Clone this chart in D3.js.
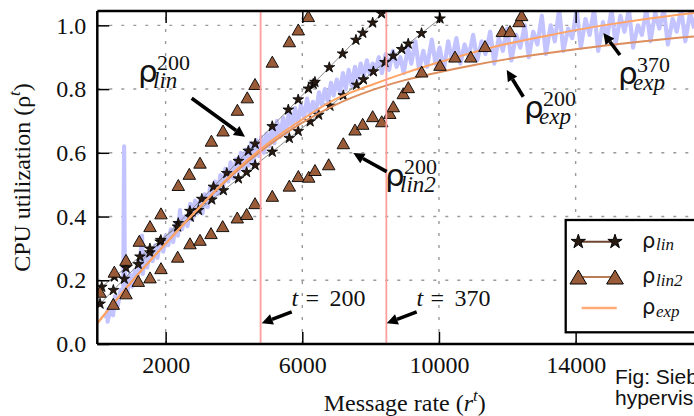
<!DOCTYPE html>
<html>
<head>
<meta charset="utf-8">
<script src="https://cdn.jsdelivr.net/npm/d3@7"></script>
<style>
  body { margin: 0; background: #fff; }
  svg { display: block; }
  .serif { font-family: "Liberation Serif", "Times New Roman", serif; }
  .rho { font-family: "DejaVu Sans", sans-serif; }
</style>
</head>
<body>
<svg id="chart" width="694" height="416"></svg>
<script>
// ---- data ----
const xTicks = [2000, 6000, 10000, 14000]
const yTicks = [0, 0.2, 0.4, 0.6, 0.8, 1.0]
const changePoints = [4780, 8460]   // t = 200, t = 370

// measured CPU utilization vs message rate
const measured = [
  [250,0.08],[320,0.11],[300,0.07],[400,0.12],[460,0.09],[520,0.15],[600,0.12],[680,0.17],[760,0.15],[785,0.62],
  [805,0.19],[880,0.16],[950,0.22],[1020,0.18],[1100,0.23],[1180,0.21],[1250,0.26],[1310,0.34],[1330,0.22],[1400,0.28],
  [1460,0.24],[1540,0.29],[1620,0.26],[1700,0.31],[1760,0.27],[1850,0.33],[1930,0.29],[2000,0.34],[2080,0.31],[2150,0.36],
  [2220,0.32],[2300,0.38],[2360,0.34],[2420,0.42],[2480,0.36],[2560,0.40],[2640,0.37],[2720,0.44],[2780,0.39],[2860,0.45],
  [2930,0.41],[3000,0.45],[3080,0.41],[3150,0.47],[3230,0.43],[3300,0.49],[3380,0.45],[3450,0.51],[3530,0.47],[3600,0.53],
  [3680,0.49],[3750,0.55],[3830,0.51],[3900,0.57],[3980,0.52],[4060,0.58],[4130,0.54],[4200,0.60],[4280,0.55],[4350,0.61],
  [4430,0.56],[4500,0.63],[4580,0.57],[4650,0.64],[4720,0.59],[4800,0.65],[4880,0.60],[4950,0.66],[5030,0.62],[5100,0.68],
  [5180,0.63],[5260,0.70],[5350,0.65],[5440,0.71],[5520,0.66],[5610,0.73],[5700,0.68],[5790,0.74],[5870,0.69],[5960,0.75],
  [6050,0.71],[6140,0.77],[6220,0.72],[6310,0.76],[6400,0.73],[6490,0.79],[6570,0.75],[6660,0.80],[6750,0.76],[6840,0.82],
  [6920,0.78],[7010,0.83],[7100,0.79],[7190,0.85],[7270,0.80],[7360,0.86],[7450,0.81],[7540,0.87],[7620,0.83],[7710,0.88],
  [7800,0.84],[7890,0.89],[7970,0.85],[8060,0.88],[8140,0.86],[8240,0.90],[8330,0.85],[8440,0.91],[8540,0.86],[8650,0.92],
  [8760,0.87],[8870,0.90],[8970,0.85],[9090,0.93],[9190,0.88],[9310,0.95],[9420,0.86],[9540,0.92],[9650,0.87],[9790,0.955],
  [9900,0.88],[10020,0.93],[10140,0.86],[10270,0.95],[10380,0.89],[10510,0.96],[10630,0.88],[10750,0.94],[10870,0.90],[11000,0.97],
  [11120,0.89],[11250,0.95],[11360,0.91],[11500,0.98],[11620,0.88],[11750,0.96],[11870,0.92],[12000,0.99],[12120,0.89],[12260,0.97],
  [12380,0.93],[12510,1.00],[12630,0.90],[12760,0.98],[12880,0.94],[13010,1.03],[13130,0.91],[13270,1.00],[13390,0.95],[13520,1.05],
  [13640,0.92],[13780,0.99],[13900,0.96],[14030,1.05],[14150,0.93],[14290,1.02],[14410,0.97],[14540,1.05],[14660,0.92],[14800,1.01],
  [14920,0.96],[15050,1.05],[15170,0.94],[15310,1.03],[15430,0.98],[15560,1.05],[15680,0.93],[15820,1.00],[15940,0.97],[16070,1.05],
  [16190,0.95],[16330,1.04],[16450,0.99],[16580,1.05],[16700,0.94],[16840,1.02],[16960,0.98],[17090,1.05],[17210,0.95],[17350,1.04],
  [17470,0.99]
]

// linear model fitted at t = 200 (steep) and at t = 370
const lin200 = [
  [80,0.126],[470,0.169],[790,0.204],[1200,0.250],[1540,0.287],[1840,0.321],[2370,0.379],[2710,0.417],[3060,0.455],[3400,0.493],
  [3790,0.536],[4130,0.574],[4420,0.606],[4620,0.628],[5120,0.683],[5590,0.735],[5880,0.767],[6180,0.801],[6320,0.816],[6370,0.822],
  [6790,0.868],[7180,0.911],[7570,0.954],[7770,0.976],[8060,1.008],[8320,1.037]
]
const lin370 = [
  [130,0.179],[500,0.211],[840,0.239],[1250,0.274],[1540,0.299],[1860,0.326],[2350,0.368],[2720,0.399],[2960,0.420],[3350,0.453],
  [3690,0.482],[4130,0.519],[4370,0.539],[4620,0.561],[5120,0.603],[5620,0.646],[5880,0.668],[6230,0.698],[6480,0.719],[6810,0.747],
  [7200,0.780],[7590,0.813],[7790,0.830],[8080,0.855],[8420,0.884],[8660,0.904],[8910,0.925],[9100,0.942],[9490,0.975],[10030,1.021]
]

// lin2 model, two fits
const lin2Upper = [
  [80,0.164],[498,0.227],[840,0.264],[1229,0.324],[1543,0.370],[1864,0.410],[2371,0.499],[2693,0.534],[3006,0.569],[3340,0.638],
  [3680,0.670],[4100,0.735],[4390,0.774],[4616,0.816],[5122,0.886],[5620,0.950],[5883,0.987],[6176,1.029]
]
const lin2Lower = [
  [468,0.126],[840,0.159],[1200,0.198],[1543,0.209],[1864,0.238],[2353,0.274],[2713,0.316],[3006,0.327],[3328,0.348],[3670,0.370],
  [4097,0.397],[4372,0.408],[4616,0.442],[5122,0.465],[5620,0.497],[5884,0.527],[6187,0.525],[6372,0.546],[6773,0.564],[7200,0.630],
  [7542,0.673],[7768,0.691],[8060,0.715],[8324,0.699],[8560,0.725],[8663,0.746],[8956,0.787],[9102,0.806],[9494,0.855],[10030,0.876],
  [10469,0.902],[10930,0.902],[11347,0.935],[11854,0.982],[12079,0.982],[12343,1.013],[12420,1.032]
]

// exponential model fits
const exp370 = [
  [0,0.065],[1000,0.195],[2000,0.315],[3000,0.43],[4000,0.54],[5000,0.63],[6000,0.705],[7000,0.77],[8000,0.812],[9000,0.85],
  [10000,0.884],[11000,0.915],[12000,0.942],[13000,0.964],[14000,0.985],[15000,1.003],[16000,1.019],[17000,1.033],[18000,1.046]
]
const exp200 = [
  [0,0.065],[1000,0.195],[2000,0.315],[3000,0.43],[4000,0.535],[5000,0.622],[6000,0.695],[7000,0.752],[8000,0.795],[9000,0.828],
  [10000,0.853],[11000,0.875],[12000,0.894],[13000,0.91],[14000,0.925],[15000,0.938],[16000,0.95],[17000,0.961],[18000,0.97]
]

// ---- drawing ----
const svg = d3.select('#chart')

const xScale = d3.scaleLinear().domain([0, 18000]).range([97.3, 712.3])
const yScale = d3.scaleLinear().domain([0, 1.045]).range([344, 11])

const plotLeft = xScale(0), plotRight = xScale(18000)
const plotTop = yScale(1.045), plotBottom = yScale(0)

svg.append('defs').append('clipPath').attr('id', 'plot')
  .append('rect')
  .attr('x', plotLeft).attr('y', plotTop)
  .attr('width', plotRight - plotLeft).attr('height', plotBottom - plotTop)

// dotted grid
const grid = svg.append('g').attr('stroke', '#9a9a9a').attr('stroke-width', 1.4).attr('stroke-dasharray', '3,9')
grid.selectAll('.gx')
  .data(xTicks)
  .enter()
  .append('line')
  .attr('x1', d => xScale(d)).attr('x2', d => xScale(d))
  .attr('y1', plotBottom).attr('y2', plotTop)
grid.selectAll('.gy')
  .data(yTicks.slice(1))
  .enter()
  .append('line')
  .attr('x1', plotLeft).attr('x2', plotRight)
  .attr('y1', d => yScale(d)).attr('y2', d => yScale(d))

const plot = svg.append('g').attr('clip-path', 'url(#plot)')

const line = d3.line().x(d => xScale(d[0])).y(d => yScale(d[1]))
const smooth = d3.line().x(d => xScale(d[0])).y(d => yScale(d[1])).curve(d3.curveMonotoneX)

plot.append('path')
  .datum(measured)
  .attr('d', line)
  .attr('fill', 'none')
  .attr('stroke', '#c3c3ff')
  .attr('stroke-width', 4.2)
  .attr('stroke-linejoin', 'round')

const star = d3.symbol().type(d3.symbolStar)
const triangle = (w, h) => `M0,${-h / 2}L${w / 2},${h / 2}L${-w / 2},${h / 2}Z`

;[lin200, lin370].forEach(series => {
  plot.append('path')
    .datum(series)
    .attr('d', line)
    .attr('fill', 'none')
    .attr('stroke', '#808080')
    .attr('stroke-width', 0.9)
  plot.selectAll(null)
    .data(series)
    .enter()
    .append('path')
    .attr('d', star.size(36)())
    .attr('transform', d => `translate(${xScale(d[0])},${yScale(d[1])})`)
    .attr('fill', '#2a1b12')
    .attr('stroke', '#000')
    .attr('stroke-width', 0.8)
})

plot.append('path')
  .datum(exp200)
  .attr('d', smooth)
  .attr('fill', 'none')
  .attr('stroke', '#dc8e5e')
  .attr('stroke-width', 2)
plot.append('path')
  .datum(exp370)
  .attr('d', smooth)
  .attr('fill', 'none')
  .attr('stroke', '#ffa465')
  .attr('stroke-width', 2)

;[lin2Upper, lin2Lower].forEach(series => {
  plot.selectAll(null)
    .data(series)
    .enter()
    .append('path')
    .attr('d', triangle(12.5, 11))
    .attr('transform', d => `translate(${xScale(d[0])},${yScale(d[1])})`)
    .attr('fill', '#9a5c38')
    .attr('stroke', '#000')
    .attr('stroke-width', 0.9)
})

plot.selectAll('.change')
  .data(changePoints)
  .enter()
  .append('line')
  .attr('x1', d => xScale(d)).attr('x2', d => xScale(d))
  .attr('y1', plotBottom).attr('y2', plotTop)
  .attr('stroke', '#ff9f9f')
  .attr('stroke-width', 1.8)

// axes: inward ticks, serif labels
svg.append('g')
  .attr('transform', `translate(0,${plotBottom})`)
  .call(d3.axisBottom(xScale).tickValues(xTicks).tickFormat(d3.format('d')).tickSizeInner(-12).tickSizeOuter(0).tickPadding(12))
svg.append('g')
  .attr('transform', `translate(0,${plotTop})`)
  .call(d3.axisTop(xScale).tickValues(xTicks).tickFormat('').tickSizeInner(-12).tickSizeOuter(0))
svg.append('g')
  .attr('transform', `translate(${plotLeft},0)`)
  .call(d3.axisLeft(yScale).tickValues(yTicks).tickFormat(d3.format('.1f')).tickSizeInner(-12).tickSizeOuter(0).tickPadding(11))

svg.selectAll('.domain').remove()
svg.selectAll('.tick line').attr('stroke', '#000').attr('stroke-width', 1.5)
svg.selectAll('.tick text')
  .attr('class', 'serif')
  .attr('font-size', 24)
  .attr('fill', '#111')

// spines
const spines = svg.append('g').attr('stroke', '#000').attr('stroke-width', 2.5)
spines.append('line').attr('x1', plotLeft).attr('x2', plotLeft).attr('y1', plotTop).attr('y2', plotBottom)
spines.append('line').attr('x1', plotLeft).attr('x2', plotRight).attr('y1', plotBottom).attr('y2', plotBottom)
spines.append('line').attr('x1', plotLeft).attr('x2', plotRight).attr('y1', plotTop).attr('y2', plotTop)

// axis titles
const yTitle = svg.append('text')
  .attr('class', 'serif')
  .attr('font-size', 24)
  .attr('fill', '#111')
  .attr('text-anchor', 'middle')
  .attr('transform', `translate(30,${(plotTop + plotBottom) / 2}) rotate(-90)`)
yTitle.append('tspan').text('CPU utilization (ρ')
yTitle.append('tspan').attr('font-style', 'italic').attr('font-size', 17).attr('dy', -10).text('t')
yTitle.append('tspan').attr('dy', 10).text(')')

const xTitle = svg.append('text')
  .attr('class', 'serif')
  .attr('font-size', 24)
  .attr('fill', '#111')
  .attr('text-anchor', 'middle')
  .attr('x', (plotLeft + plotRight) / 2)
  .attr('y', 411)
xTitle.append('tspan').text('Message rate (')
xTitle.append('tspan').attr('font-style', 'italic').text('r')
xTitle.append('tspan').attr('font-style', 'italic').attr('font-size', 17).attr('dy', -10).text('t')
xTitle.append('tspan').attr('dy', 10).text(')')

// legend
const legend = svg.append('g')
legend.append('rect')
  .attr('x', 565.7).attr('y', 220)
  .attr('width', 200).attr('height', 112.3)
  .attr('fill', '#fff')
  .attr('stroke', '#000')
  .attr('stroke-width', 2.3)

const legendRows = [
  { kind: 'star', y: 241.7, sub: 'lin', line: '#6e4530' },
  { kind: 'tri', y: 277, sub: 'lin2', line: '#b97d58' },
  { kind: 'exp', y: 308, sub: 'exp', line: '#ffaa77' }
]
legendRows.forEach(row => {
  if (row.kind === 'exp') {
    legend.append('line')
      .attr('x1', 581.7).attr('x2', 616.7).attr('y1', row.y).attr('y2', row.y)
      .attr('stroke', row.line).attr('stroke-width', 2.5)
  } else {
    legend.append('line')
      .attr('x1', 578.3).attr('x2', 615).attr('y1', row.y).attr('y2', row.y)
      .attr('stroke', row.line).attr('stroke-width', 2)
    ;[578.3, 615].forEach(cx => {
      legend.append('path')
        .attr('d', row.kind === 'star' ? star.size(63)() : triangle(16.7, 14))
        .attr('transform', `translate(${cx},${row.y})`)
        .attr('fill', row.kind === 'star' ? '#2a1b12' : '#9a5c38')
        .attr('stroke', '#000')
        .attr('stroke-width', 1)
    })
  }
  const label = legend.append('text').attr('fill', '#111')
  label.append('tspan')
    .attr('class', 'rho')
    .attr('font-size', 21)
    .attr('x', 642).attr('y', row.y + 6)
    .text('ρ')
  label.append('tspan')
    .attr('class', 'serif')
    .attr('font-style', 'italic')
    .attr('font-size', 17)
    .attr('x', 656).attr('y', row.y + 8.5)
    .text(row.sub)
})

// annotations
function arrow(x1, y1, x2, y2) {
  const ax = xScale(x1), ay = yScale(y1), bx = xScale(x2), by = yScale(y2)
  const len = Math.hypot(bx - ax, by - ay)
  const ux = (bx - ax) / len, uy = (by - ay) / len
  const hl = 11, hw = 5.5
  const cx = bx - ux * hl, cy = by - uy * hl
  svg.append('line')
    .attr('x1', ax).attr('y1', ay).attr('x2', cx).attr('y2', cy)
    .attr('stroke', '#000').attr('stroke-width', 3.6)
  svg.append('path')
    .attr('d', `M${bx},${by}L${cx - uy * hw},${cy + ux * hw}L${cx + uy * hw},${cy - ux * hw}Z`)
    .attr('fill', '#000')
}

function rhoLabel(px, py, sup, sub) {
  const label = svg.append('text').attr('fill', '#111')
  label.append('tspan').attr('class', 'rho').attr('font-size', 31)
    .attr('x', px).attr('y', py).text('ρ')
  label.append('tspan').attr('class', 'serif').attr('font-size', 22)
    .attr('x', px + 19).attr('y', py - 12).text(sup)
  label.append('tspan').attr('class', 'serif').attr('font-style', 'italic').attr('font-size', 23)
    .attr('x', px + 15).attr('y', py + 6).text(sub)
}

rhoLabel(138, 82, '200', 'lin')
arrow(2763, 0.771, 4323, 0.650)

rhoLabel(385, 186, '200', 'lin2')
arrow(8470, 0.541, 7493, 0.599)

rhoLabel(524, 118, '200', 'exp')
arrow(12468, 0.776, 11983, 0.860)

rhoLabel(618, 84, '370', 'exp')
arrow(15298, 0.907, 14810, 0.976)

function tLabel(px, value) {
  const label = svg.append('text').attr('class', 'serif').attr('font-size', 24).attr('fill', '#111')
  label.append('tspan').attr('font-style', 'italic').attr('x', px).attr('y', 306).text('t')
  label.append('tspan').attr('x', px + 14).attr('y', 306).text('=')
  label.append('tspan').attr('x', px + 38).attr('y', 306).text(value)
}
tLabel(291.5, '200')
arrow(5690, 0.101, 4812, 0.065)
tLabel(416.5, '370')
arrow(9348, 0.101, 8470, 0.065)

// caption fragment at the bottom right
const caption = svg.append('text')
  .attr('font-family', '"Liberation Sans", Arial, sans-serif')
  .attr('font-size', 21)
  .attr('fill', '#111')
caption.append('tspan').attr('x', 615).attr('y', 384).text('Fig: Sieb')
caption.append('tspan').attr('x', 615).attr('y', 405).text('hypervis')
</script>
</body>
</html>
